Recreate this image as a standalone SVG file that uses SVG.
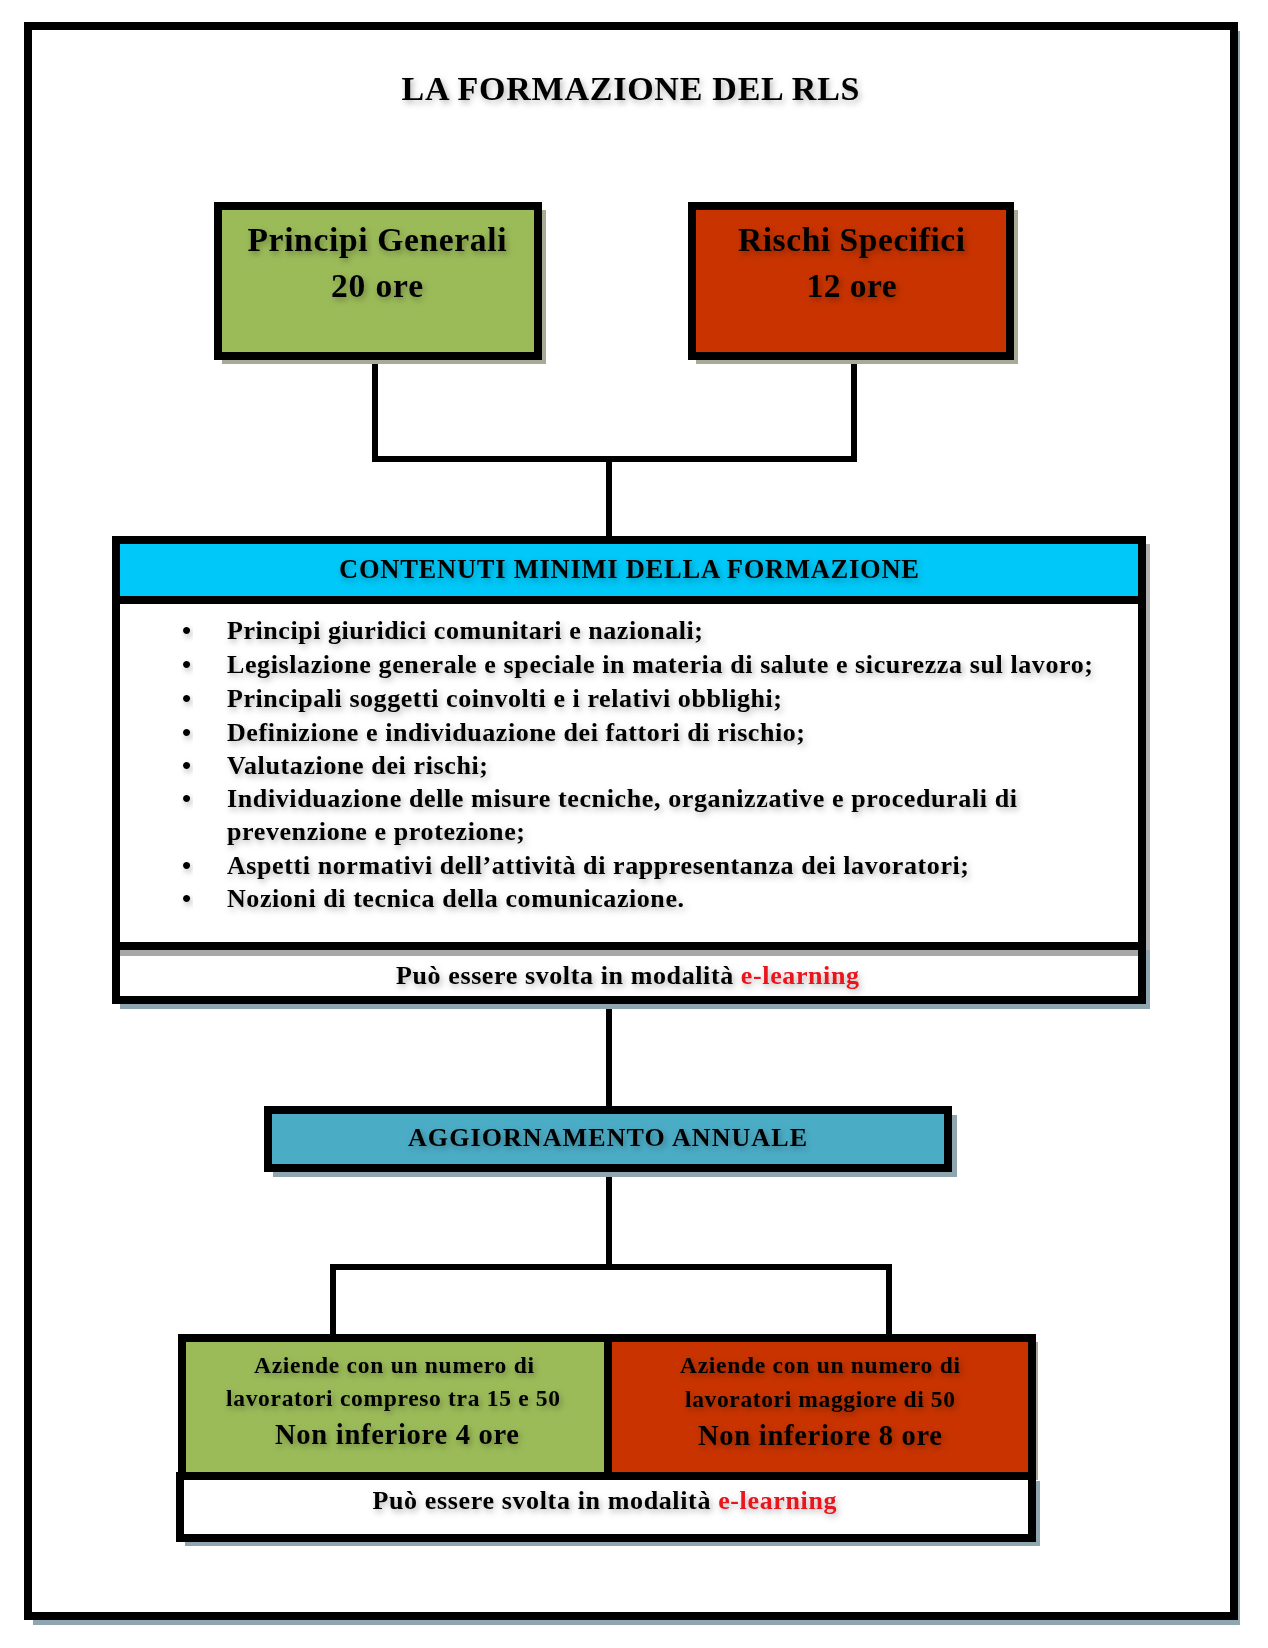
<svg xmlns="http://www.w3.org/2000/svg" width="1268" height="1648" viewBox="0 0 1268 1648">
<defs>
<filter id="ts" x="-10%" y="-40%" width="120%" height="200%">
<feDropShadow dx="2" dy="3" stdDeviation="3" flood-color="#000" flood-opacity="0.3"/>
</filter>
</defs>
<style>
text{font-family:"Liberation Serif","Times New Roman",serif;font-weight:bold;fill:#000;filter:url(#ts)}
.box{stroke:#000;stroke-width:8}
.sh{fill:#8fa6b1}
.shg{fill:#a6aa96}
.con{stroke:#000;stroke-width:6;fill:none;stroke-linecap:square}
.red{fill:#e8141c}
.c{text-anchor:middle}
</style>
<rect width="1268" height="1648" fill="#fff"/>

<g id="frame">
<rect x="33" y="31" width="1207" height="1594" class="sh"/>
<rect x="28" y="26" width="1206" height="1590" fill="#fff" class="box"/>
</g>

<g id="title">
<text x="630.5" y="100" class="c" font-size="34" textLength="458" lengthAdjust="spacing">LA FORMAZIONE DEL RLS</text>
</g>

<g id="connectors">
<path class="con" d="M375 360 V459 H854 V360"/>
<path class="con" d="M609 459 V536"/>
<path class="con" d="M609 1004 V1106"/>
<path class="con" d="M609 1172 V1267"/>
<path class="con" d="M333 1338 V1267 H889 V1338"/>
</g>

<g id="principi">
<rect x="222" y="210" width="324" height="154" class="shg"/>
<rect x="218" y="206" width="320" height="150" fill="#9bbb59" class="box"/>
<text x="377" y="251" class="c" font-size="33.5" textLength="259" lengthAdjust="spacing">Principi Generali</text>
<text x="377" y="297" class="c" font-size="33.5" textLength="92" lengthAdjust="spacing">20 ore</text>
</g>

<g id="rischi">
<rect x="696" y="210" width="322" height="154" class="shg"/>
<rect x="692" y="206" width="318" height="150" fill="#c83300" class="box"/>
<text x="851.5" y="251" class="c" font-size="33.5" textLength="227" lengthAdjust="spacing">Rischi Specifici</text>
<text x="851.5" y="297" class="c" font-size="33.5" textLength="90" lengthAdjust="spacing">12 ore</text>
</g>

<g id="contenuti">
<rect x="120" y="544" width="1030" height="465" class="sh"/>
<rect x="120" y="544" width="1030" height="406" fill="#b0b0b0"/>
<rect x="116" y="540" width="1026" height="460" fill="#fff" class="box"/>
<rect x="120" y="544" width="1018" height="52" fill="#00c8f8"/>
<line x1="116" y1="600" x2="1142" y2="600" stroke="#000" stroke-width="8"/>
<line x1="112" y1="946" x2="1142" y2="946" stroke="#000" stroke-width="8"/>
<rect x="120" y="950" width="1018" height="6" fill="#a8a8a8"/>
<text x="629" y="578" class="c" font-size="26.5" textLength="580" lengthAdjust="spacing">CONTENUTI MINIMI DELLA FORMAZIONE</text>
<g font-size="26">
<text x="182" y="638.5">•</text><text x="227" y="638.5" textLength="476" lengthAdjust="spacing">Principi giuridici comunitari e nazionali;</text>
<text x="182" y="672.5">•</text><text x="227" y="672.5" textLength="866" lengthAdjust="spacing">Legislazione generale e speciale in materia di salute e sicurezza sul lavoro;</text>
<text x="182" y="706.5">•</text><text x="227" y="706.5" textLength="555" lengthAdjust="spacing">Principali soggetti coinvolti e i relativi obblighi;</text>
<text x="182" y="740.5">•</text><text x="227" y="740.5" textLength="578" lengthAdjust="spacing">Definizione e individuazione dei fattori di rischio;</text>
<text x="182" y="773.5">•</text><text x="227" y="773.5" textLength="261" lengthAdjust="spacing">Valutazione dei rischi;</text>
<text x="182" y="807">•</text><text x="227" y="807" textLength="790" lengthAdjust="spacing">Individuazione delle misure tecniche, organizzative e procedurali di</text>
<text x="227" y="840" textLength="298" lengthAdjust="spacing">prevenzione e protezione;</text>
<text x="182" y="873.5">•</text><text x="227" y="873.5" textLength="742" lengthAdjust="spacing">Aspetti normativi dell’attività di rappresentanza dei lavoratori;</text>
<text x="182" y="907">•</text><text x="227" y="907" textLength="457" lengthAdjust="spacing">Nozioni di tecnica della comunicazione.</text>
</g>
<text x="627.5" y="983.5" class="c" font-size="26" textLength="463" lengthAdjust="spacing">Può essere svolta in modalità <tspan class="red">e-learning</tspan></text>
</g>

<g id="aggiornamento">
<rect x="273" y="1115" width="684" height="62" class="sh"/>
<rect x="268" y="1110" width="680" height="58" fill="#4bacc6" class="box"/>
<text x="607.5" y="1146" class="c" font-size="26" textLength="399" lengthAdjust="spacing">AGGIORNAMENTO ANNUALE</text>
</g>

<g id="aziende-15-50">
<rect x="182" y="1338" width="426" height="138" fill="#9bbb59" class="box"/>
<text x="394" y="1373" class="c" font-size="23.5" textLength="280" lengthAdjust="spacing">Aziende con un numero di</text>
<text x="393" y="1406" class="c" font-size="23.5" textLength="334" lengthAdjust="spacing">lavoratori compreso tra 15 e 50</text>
<text x="397" y="1443.5" class="c" font-size="28.5" textLength="244" lengthAdjust="spacing">Non inferiore 4 ore</text>
</g>

<g id="aziende-oltre-50">
<rect x="1032" y="1342" width="6" height="138" class="shg"/>
<rect x="608" y="1338" width="424" height="138" fill="#c83300" class="box"/>
<text x="820" y="1373" class="c" font-size="23.5" textLength="280" lengthAdjust="spacing">Aziende con un numero di</text>
<text x="820" y="1406.5" class="c" font-size="23.5" textLength="270" lengthAdjust="spacing">lavoratori maggiore di 50</text>
<text x="820" y="1445" class="c" font-size="28.5" textLength="244" lengthAdjust="spacing">Non inferiore 8 ore</text>
</g>

<g id="elearning-annuale">
<rect x="185" y="1481" width="855" height="65" class="sh"/>
<rect x="180" y="1476" width="852" height="62" fill="#fff" class="box"/>
<text x="604.5" y="1509" class="c" font-size="26" textLength="464" lengthAdjust="spacing">Può essere svolta in modalità <tspan class="red">e-learning</tspan></text>
</g>
</svg>
